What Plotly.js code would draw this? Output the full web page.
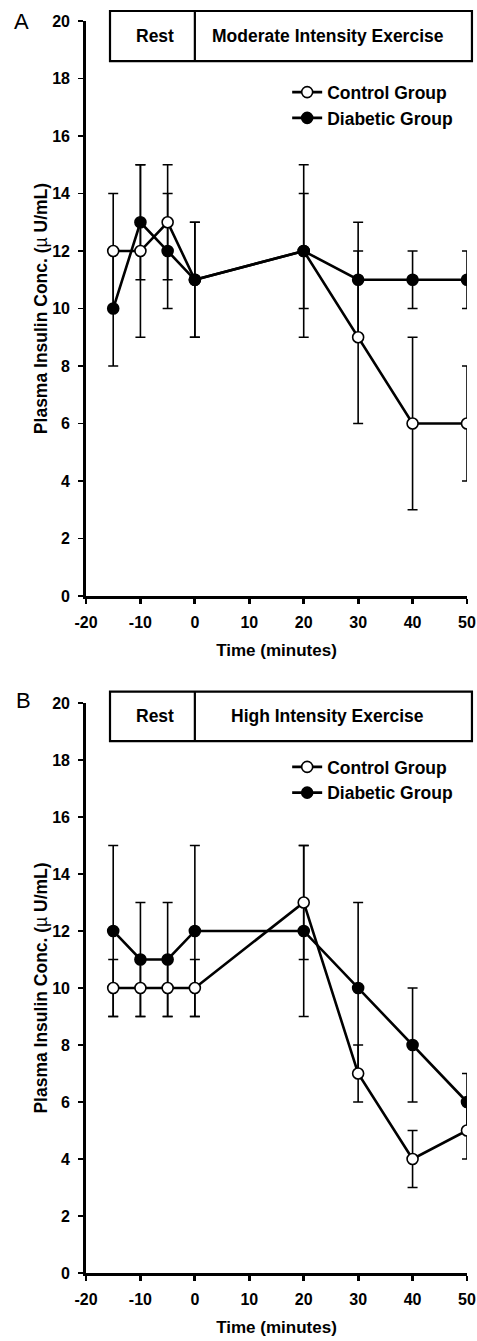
<!DOCTYPE html>
<html>
<head>
<meta charset="utf-8">
<script src="https://cdn.plot.ly/plotly-3.0.1.min.js"></script>
<style>html,body{margin:0;padding:0;background:#fff;}#chart{width:477px;height:1341px;}</style>
</head>
<body>
<div id="chart"></div>
<script>
// ---- Data ----
const time = [-15, -10, -5, 0, 20, 30, 40, 50];

// Panel A: Moderate intensity exercise
const A_control = [12, 12, 13, 11, 12, 9, 6, 6];
const A_control_err = [2, 3, 2, 2, 3, 3, 3, 2];
const A_diabetic = [10, 13, 12, 11, 12, 11, 11, 11];
const A_diabetic_err = [2, 2, 2, 2, 2, 2, 1, 1];

// Panel B: High intensity exercise
const B_control = [10, 10, 10, 10, 13, 7, 4, 5];
const B_control_err = [1, 1, 1, 1, 2, 1, 1, 1];
const B_diabetic = [12, 11, 11, 12, 12, 10, 8, 6];
const B_diabetic_err = [3, 2, 2, 3, 3, 3, 2, 1];

const xTicks = [-20, -10, 0, 10, 20, 30, 40, 50];
const yTicks = [0, 2, 4, 6, 8, 10, 12, 14, 16, 18, 20];
const seriesNames = ["Control Group", "Diabetic Group"];
const phaseLabelsA = ["Rest", "Moderate Intensity Exercise"];
const phaseLabelsB = ["Rest", "High Intensity Exercise"];
const panelLetters = ["A", "B"];

// ---- Styling ----
const FONT = "Liberation Sans, Arial, Helvetica, sans-serif";
const bold = (size) => ({family: FONT, size: size, color: "#000", weight: "bold"});

function errTrace(y, err, xa, ya) {
  return {
    x: time, y: y, xaxis: xa, yaxis: ya, type: "scatter", mode: "markers",
    marker: {size: 1, opacity: 0}, showlegend: false, hoverinfo: "skip",
    error_y: {type: "data", array: err, visible: true, color: "#000", thickness: 1.6, width: 5}
  };
}
function serTrace(y, name, filled, xa, ya, leg) {
  return {
    x: time, y: y, xaxis: xa, yaxis: ya, type: "scatter", mode: "lines+markers",
    name: name, legend: leg,
    line: {color: "#000", width: 2.6},
    marker: {symbol: "circle", size: 11, color: filled ? "#000" : "#fff", line: {color: "#000", width: 1.6}}
  };
}

const data = [
  errTrace(A_control, A_control_err, "x", "y"),
  errTrace(A_diabetic, A_diabetic_err, "x", "y"),
  serTrace(A_control, seriesNames[0], false, "x", "y", "legend"),
  serTrace(A_diabetic, seriesNames[1], true, "x", "y", "legend"),
  errTrace(B_control, B_control_err, "x2", "y2"),
  errTrace(B_diabetic, B_diabetic_err, "x2", "y2"),
  serTrace(B_control, seriesNames[0], false, "x2", "y2", "legend2"),
  serTrace(B_diabetic, seriesNames[1], true, "x2", "y2", "legend2")
];

function xAxis(anchor) {
  return {
    anchor: anchor, range: [-20, 50], tickvals: xTicks, ticktext: xTicks.map(String),
    showgrid: false, zeroline: false, showline: true, linecolor: "#000", linewidth: 2.8,
    ticks: "outside", ticklen: 5, tickwidth: 2.8, tickcolor: "#000",
    tickfont: bold(16), ticklabelstandoff: 5,
    title: {text: "Time (minutes)", font: bold(17), standoff: 14},
    automargin: false, fixedrange: true
  };
}
function yAxis(anchor, domain) {
  return {
    anchor: anchor, domain: domain, range: [0, 20], tickvals: yTicks, ticktext: yTicks.map(String),
    showgrid: false, zeroline: false, showline: true, linecolor: "#000", linewidth: 2.8,
    ticks: "outside", ticklen: 5, tickwidth: 1.6, tickcolor: "#000",
    tickfont: bold(16), ticklabelstandoff: 5,
    title: {text: "Plasma Insulin Conc. (<span style='font-weight:normal'>µ</span> U/mL)", font: bold(17.5), standoff: 0},
    automargin: false, fixedrange: true
  };
}

// Header boxes (paper coords)
function headerShapes(yb, yt) {
  const x0 = 0.063, xm = 20 / 70, x1 = 1.013;
  const ln = {color: "#000", width: 2.2};
  return [
    {type: "rect", xref: "paper", yref: "paper", x0: x0, x1: x1, y0: yb, y1: yt, line: ln, fillcolor: "rgba(0,0,0,0)"},
    {type: "line", xref: "paper", yref: "paper", x0: xm, x1: xm, y0: yb, y1: yt, line: ln}
  ];
}
function headerAnn(labels, yb, yt) {
  const x0 = 0.063, xm = 20 / 70, x1 = 1.013, yc = (yb + yt) / 2;
  return [
    {xref: "paper", yref: "paper", x: (x0 + xm) / 2 + 0.006, y: yc, text: labels[0], showarrow: false, font: bold(17.5), xanchor: "center", yanchor: "middle"},
    {xref: "paper", yref: "paper", x: (xm + x1) / 2 - 0.015, y: yc, text: labels[1], showarrow: false, font: bold(17.5), xanchor: "center", yanchor: "middle"}
  ];
}

const domA = [0.5407, 1.0];
const domB = [0.0, 0.4553];
const hA = [0.968, 1.008];
const hB = [0.4249, 0.4643];

const legendStyle = (y) => ({
  x: 0.528, y: y, xanchor: "left", yanchor: "top", bgcolor: "rgba(0,0,0,0)", borderwidth: 0,
  font: bold(17.5), itemwidth: 30, tracegroupgap: 0
});

const layout = {
  width: 477, height: 1341,
  margin: {l: 86, r: 10, t: 21, b: 68},
  paper_bgcolor: "#fff", plot_bgcolor: "#fff",
  showlegend: true,
  font: {family: FONT, color: "#000"},
  xaxis: xAxis("y"), yaxis: yAxis("x", domA),
  xaxis2: xAxis("y2"), yaxis2: yAxis("x2", domB),
  legend: legendStyle(0.9575),
  legend2: legendStyle(0.4185),
  shapes: headerShapes(hA[0], hA[1]).concat(headerShapes(hB[0], hB[1])),
  annotations: headerAnn(phaseLabelsA, hA[0], hA[1]).concat(headerAnn(phaseLabelsB, hB[0], hB[1])).concat([
    {xref: "paper", yref: "paper", x: -0.168, y: 1.0, text: panelLetters[0], showarrow: false, font: {family: FONT, size: 22, color: "#000"}, xanchor: "center", yanchor: "middle"},
    {xref: "paper", yref: "paper", x: -0.163, y: 0.4569, text: panelLetters[1], showarrow: false, font: {family: FONT, size: 22, color: "#000"}, xanchor: "center", yanchor: "middle"}
  ])
};

Plotly.newPlot("chart", data, layout, {staticPlot: true, displayModeBar: false});
</script>
</body>
</html>
